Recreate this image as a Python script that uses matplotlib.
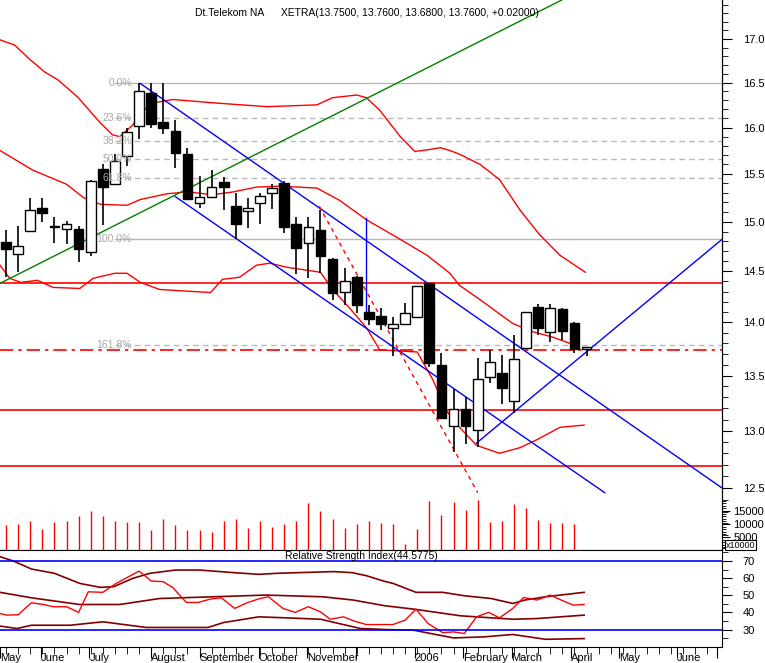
import numpy as np
import matplotlib
matplotlib.use("Agg")
import matplotlib.pyplot as plt
from matplotlib.ticker import FixedLocator, NullFormatter, FuncFormatter

plt.rcParams['font.family'] = ['Liberation Sans', 'DejaVu Sans']

# weekly candles (index 0 = first week of May 2005)
opens = [14.79, 14.67, 14.91, 15.14, 14.95, 14.93, 14.92, 14.69, 15.55, 15.39,
         15.69, 16.02, 16.38, 16.06, 15.96, 15.71, 15.19, 15.26, 15.41, 15.16,
         15.11, 15.19, 15.30, 15.40, 14.97, 14.78, 14.91, 14.62, 14.30, 14.44,
         14.10, 14.06, 13.95, 13.99, 14.05, 14.38, 13.59, 13.04, 13.19, 13.01,
         13.49, 13.52, 13.27, 13.76, 14.15, 13.91, 14.13, 13.99, 13.75]
highs = [14.92, 14.96, 15.25, 15.25, 15.05, 15.01, 14.96, 15.43, 15.61, 15.71,
         16.00, 16.50, 16.50, 16.50, 16.08, 15.78, 15.48, 15.54, 15.47, 15.30,
         15.25, 15.30, 15.39, 15.42, 15.05, 15.05, 15.12, 14.63, 14.53, 14.45,
         14.17, 14.14, 14.05, 14.19, 14.35, 14.38, 13.71, 13.38, 13.30, 13.66,
         13.74, 13.69, 13.88, 14.10, 14.18, 14.18, 14.14, 14.00, 13.76]
lows = [14.44, 14.49, 14.91, 15.00, 14.78, 14.77, 14.59, 14.65, 14.97, 15.39,
        15.58, 15.87, 16.00, 15.93, 15.56, 15.24, 15.14, 15.25, 15.12, 14.82,
        14.94, 14.98, 15.13, 14.88, 14.47, 14.43, 14.48, 14.22, 14.17, 14.09,
        13.98, 13.93, 13.68, 13.98, 14.04, 13.58, 13.11, 12.81, 12.88, 12.86,
        13.43, 13.24, 13.16, 13.76, 13.88, 13.81, 13.83, 13.71, 13.68]
closes = [14.72, 14.75, 15.12, 15.09, 14.95, 14.97, 14.72, 15.42, 15.36, 15.63,
          15.95, 16.40, 16.04, 16.00, 15.72, 15.24, 15.25, 15.36, 15.36, 14.98,
          15.14, 15.26, 15.35, 14.95, 14.73, 14.94, 14.65, 14.29, 14.40, 14.17,
          14.03, 13.99, 13.98, 14.09, 14.35, 13.62, 13.11, 13.19, 13.04, 13.46,
          13.62, 13.39, 13.65, 14.10, 13.95, 14.14, 13.92, 13.75, 13.76]
volume = [9750, 10125, 11250, 8125, 10875, 11250, 13125, 15000, 13125, 11250,
          10875, 10875, 7500, 12000, 9750, 7875, 7500, 6750, 11250, 12000,
          8625, 11250, 9000, 10125, 11250, 18000, 15000, 12000, 8625, 10125,
          11250, 10500, 10125, 2250, 8250, 18750, 13500, 18375, 15375, 19125,
          10875, 11250, 17625, 16125, 11625, 10500, 10500, 10125]

# bands (week index, price)
upper_x = [-0.5, 0.7, 2.0, 3.2, 4.3, 5.9, 7.8, 8.8, 9.4, 10.5, 11.1, 12.1, 13.8, 17.4, 21.6,
           25.7, 27.0, 29.0, 29.8, 30.9, 32.6, 33.8, 35.0, 35.9, 36.7, 37.5, 39.2, 40.8,
           42.5, 44.1, 45.8, 47.9]
upper_y = [16.99, 16.93, 16.76, 16.62, 16.53, 16.34, 16.05, 15.92, 15.90, 16.03, 16.16, 16.27,
           16.31, 16.27, 16.23, 16.25, 16.33, 16.36, 16.33, 16.19, 15.90, 15.74, 15.76, 15.78,
           15.75, 15.71, 15.60, 15.44, 15.12, 14.87, 14.66, 14.49]
mid_x = [-0.5, 2.2, 5.0, 6.4, 7.8, 10.0, 11.1, 13.3, 15.0, 17.1, 18.8, 20.7, 22.6, 25.7, 27.6,
         29.8, 32.6, 34.8, 36.7, 37.5, 39.2, 41.9, 43.6, 45.2, 47.4]
mid_y = [15.75, 15.54, 15.39, 15.25, 15.18, 15.17, 15.23, 15.29, 15.31, 15.28, 15.31, 15.36,
         15.37, 15.35, 15.22, 15.02, 14.82, 14.66, 14.48, 14.36, 14.22, 13.99, 13.91, 13.86, 13.77]
lower_x = [-0.5, 0.3, 1.2, 2.6, 3.9, 6.1, 7.2, 9.0, 10.0, 11.1, 12.7, 16.9, 17.9, 19.3, 20.7,
           21.8, 23.2, 26.0, 27.0, 28.4, 29.8, 30.9, 34.0, 35.3, 36.4, 37.5, 38.9, 40.8, 42.5,
           43.9, 45.8, 47.8]
lower_y = [14.56, 14.43, 14.39, 14.41, 14.34, 14.33, 14.43, 14.48, 14.48, 14.39, 14.32, 14.29,
           14.42, 14.44, 14.56, 14.58, 14.54, 14.49, 14.32, 14.14, 13.95, 13.74, 13.72, 13.46,
           13.18, 13.03, 12.87, 12.80, 12.85, 12.92, 13.03, 13.05]

fib_levels = [16.49, 16.10, 15.85, 15.655, 15.46, 14.82, 13.79]
fib_labels = ["0.0%", "23.6%", "38.2%", "50.0%", "61.8%", "100.0%", "161.8%"]
fib_solid = [True, False, False, False, False, True, False]
red_levels = [14.38, 13.19, 12.69]
dashdot_level = 13.74

# trend lines: (x0, y0, x1, y1)
green_line = (-0.5, 14.38, 45.95, 17.46)
blue_lines = [(11.1, 16.49, 59.2, 12.5), (14.0, 15.26, 49.5, 12.46),
              (38.9, 12.89, 59.2, 14.82), (29.8, 15.04, 29.8, 14.04)]
red_dashed = (25.9, 15.16, 39.0, 12.46)

# RSI
rsi_x = [-0.5, 0.05, 1.0, 2.1, 3.1, 3.9, 5.0, 6.0, 6.8, 8.0, 9.1, 11.0, 12.0, 13.0, 13.8,
         14.9, 15.9, 16.9, 17.8, 18.9, 20.0, 21.0, 21.7, 22.9, 23.9, 25.0, 26.0, 26.8, 27.9,
         28.8, 29.8, 31.3, 32.0, 33.0, 33.9, 34.9, 36.1, 37.0, 37.9, 38.9, 39.9, 40.8, 41.9,
         42.8, 43.9, 45.0, 45.9, 46.9, 47.8]
rsi_y = [39.4, 38.4, 38.6, 45.6, 44.6, 43.3, 43.3, 40.0, 52.0, 51.7, 56.9, 64.1, 58.3, 57.9,
         54.4, 45.8, 45.8, 47.8, 48.5, 42.3, 45.8, 48.1, 49.1, 42.3, 40.0, 43.3, 40.3, 36.0,
         37.4, 34.9, 32.9, 32.9, 32.9, 35.5, 41.9, 33.5, 28.2, 28.6, 27.7, 37.4, 40.0, 36.8,
         42.3, 48.7, 47.2, 50.1, 47.2, 44.2, 44.6]
rb_up_x = [-0.5, 0.6, 2.1, 4.0, 6.1, 7.8, 8.9, 10.5, 11.9, 14.0, 16.0, 18.8, 20.9, 22.4, 27.1,
           28.6, 29.8, 31.2, 32.0, 33.9, 36.1, 37.9, 40.1, 41.9, 42.9, 44.6, 47.8]
rb_up_y = [72.5, 70.0, 65.3, 62.8, 56.9, 54.6, 55.0, 59.9, 62.8, 64.7, 64.7, 63.2, 62.2, 62.8,
           63.8, 63.2, 61.4, 58.3, 56.9, 51.7, 51.7, 49.7, 48.1, 45.2, 47.2, 49.1, 51.7]
rb_mid_x = [-0.5, 2.1, 6.1, 9.4, 12.7, 17.1, 21.5, 26.2, 28.7, 31.3, 33.7, 37.6, 41.9, 43.9, 47.8]
rb_mid_y = [51.7, 48.5, 44.6, 44.6, 48.1, 49.1, 50.1, 49.1, 47.2, 43.9, 41.9, 38.0, 36.0, 36.4, 38.4]
rb_low_x = [-0.5, 0.9, 2.1, 5.3, 8.0, 11.6, 16.7, 18.0, 20.9, 23.2, 26.0, 29.3, 31.3, 33.7,
            37.0, 39.5, 41.9, 44.6, 47.8]
rb_low_y = [32.0, 30.6, 32.5, 32.5, 34.5, 31.2, 31.2, 34.1, 37.4, 36.8, 36.0, 30.6, 30.0, 29.6,
            25.1, 25.7, 27.1, 24.3, 24.7]

month_ticks = [-0.5, 2.9, 6.9, 12.0, 16.0, 20.9, 24.9, 28.9, 33.8, 37.8, 41.8, 46.7, 50.7, 55.5, 58.8]
month_labels = ["May", "June", "July", "August", "September", "October", "November", "",
                "2006", "February", "March", "April", "May", "June", ""]

W, H = 765, 663
fig = plt.figure(figsize=(W / 100, H / 100), dpi=100)
ax = fig.add_axes([0, 113 / H, 722 / W, 550 / H])
ax2 = fig.add_axes([0, 16 / H, 722 / W, 97 / H], sharex=ax)
axv = ax.twinx()

ax.set_yscale('log')
ax.set_xlim(-0.5, 59.2)
ax.set_ylim(11.98, 17.46)

idx = np.arange(len(opens))
o, c = np.array(opens), np.array(closes)
ax.vlines(idx, lows, highs, color='black', lw=1.2, zorder=4)
ax.bar(idx, np.abs(c - o) + 0.004, bottom=np.minimum(o, c), width=0.8,
       color=np.where(c >= o, 'white', 'black'), edgecolor='black', lw=1, zorder=5)

ax.plot(upper_x, upper_y, color='red', lw=1)
ax.plot(mid_x, mid_y, color='red', lw=1)
ax.plot(lower_x, lower_y, color='red', lw=1)

for lev, lab, solid in zip(fib_levels, fib_labels, fib_solid):
    ax.plot([9.0, 59.2], [lev, lev], color='#b8b8b8', lw=1, ls='-' if solid else (0, (4, 3)), zorder=1)
    ax.text(10.4, lev, lab, color='#a8a8a8', fontsize=7.5, ha='right', va='center', zorder=6)
for lev in red_levels:
    ax.axhline(lev, color='red', lw=1.2, zorder=2)
ax.axhline(dashdot_level, color='red', lw=1.2, ls=(0, (8, 3, 2, 3)), zorder=2)

ax.plot(green_line[::2], green_line[1::2], color='green', lw=1, zorder=3)
for bl in blue_lines:
    ax.plot(bl[::2], bl[1::2], color='blue', lw=1, zorder=3)
ax.plot(red_dashed[::2], red_dashed[1::2], color='red', lw=1, ls=(0, (3, 3)), zorder=3)

ax.text(0.27, 0.985, "Dt.Telekom NA      XETRA(13.7500, 13.7600, 13.6800, 13.7600, +0.02000)",
        transform=ax.transAxes, fontsize=7.5, va='top', ha='left')

ax.yaxis.set_major_locator(FixedLocator(np.arange(12.5, 17.01, 0.5)))
ax.yaxis.set_minor_locator(FixedLocator(np.arange(12.0, 17.41, 0.1)))
ax.yaxis.set_major_formatter(FuncFormatter(lambda v, p: f"{v:.1f}"))
ax.yaxis.set_minor_formatter(NullFormatter())
ax.yaxis.tick_right()
ax.tick_params(axis='y', which='major', length=7, labelsize=8, pad=8,
               left=False, labelleft=False, right=True, labelright=True)
ax.tick_params(axis='y', which='minor', length=4, left=False, right=True)
ax.tick_params(axis='x', which='both', bottom=False, labelbottom=False)
for s in ['left', 'top']:
    ax.spines[s].set_visible(False)

# volume on twin axis
axv.set_ylim(0, 211500)
axv.vlines(idx[:len(volume)], 0, volume, color='red', lw=1)
axv.set_yticks([5000, 10000, 15000])
axv.set_yticks(np.arange(1000, 19001, 1000), minor=True)
axv.tick_params(axis='y', which='major', length=6, labelsize=8, pad=2)
axv.tick_params(axis='y', which='minor', length=3)
for s in ['left', 'top', 'bottom']:
    axv.spines[s].set_visible(False)
fig.text(726 / W, 1 - 545 / H, "x10000", fontsize=6.5, va='center', ha='left',
         bbox=dict(boxstyle='square,pad=0.1', fc='white', ec='black', lw=0.8))

# RSI panel
ax2.set_ylim(19.8, 76.4)
ax2.plot(rb_up_x, rb_up_y, color='#800000', lw=1.2)
ax2.plot(rb_mid_x, rb_mid_y, color='#800000', lw=1.2)
ax2.plot(rb_low_x, rb_low_y, color='#800000', lw=1.2)
ax2.plot(rsi_x, rsi_y, color='red', lw=1)
ax2.axhline(70, color='blue', lw=1.2)
ax2.axhline(30, color='blue', lw=1.2)
ax2.text(0.5, 0.985, "Relative Strength Index(44.5775)", transform=ax2.transAxes,
         fontsize=7.5, ha='center', va='top')
ax2.yaxis.tick_right()
ax2.set_yticks([30, 40, 50, 60, 70])
ax2.set_yticks(np.arange(25, 76, 5), minor=True)
ax2.tick_params(axis='y', which='major', length=7, labelsize=8, pad=8)
ax2.tick_params(axis='y', which='minor', length=4)
ax2.set_xticks(month_ticks)
ax2.set_xticklabels(month_labels, ha='left', fontsize=8)
ax2.set_xticks(np.arange(0, 59, 1), minor=True)
ax2.tick_params(axis='x', which='major', length=8, pad=-4)
ax2.tick_params(axis='x', which='minor', length=5)
ax2.spines['left'].set_visible(False)

fig.savefig("out.png", dpi=100)
